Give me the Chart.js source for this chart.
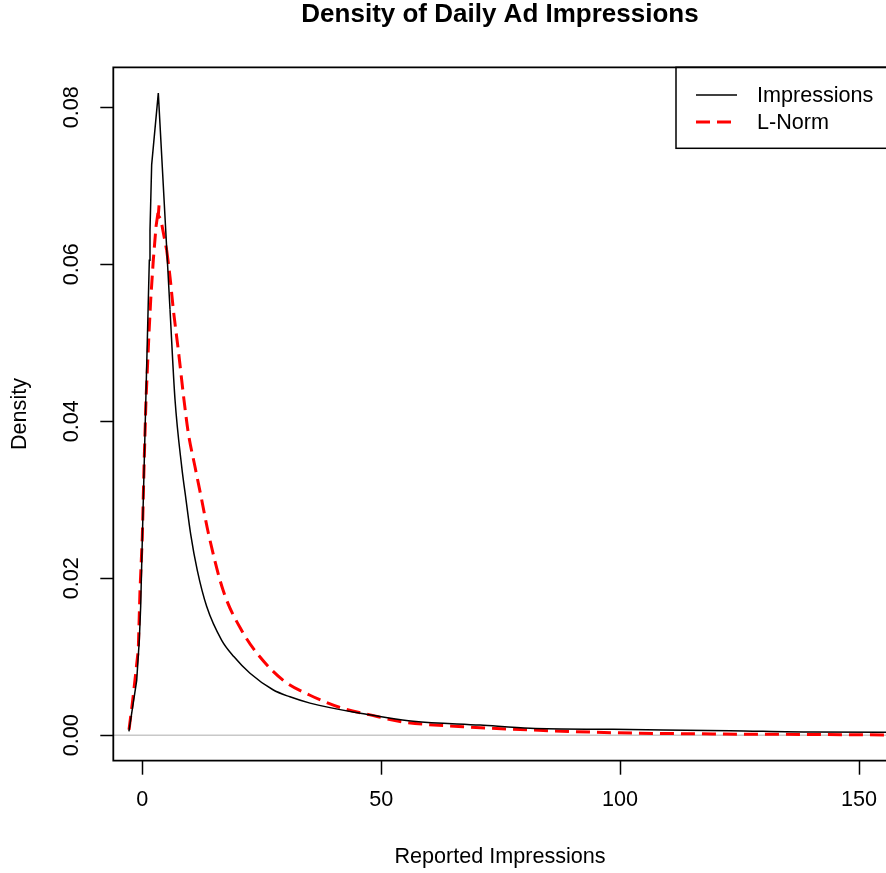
<!DOCTYPE html>
<html>
<head>
<meta charset="utf-8">
<script src="https://cdn.jsdelivr.net/npm/chart.js@4.4.1/dist/chart.umd.min.js"></script>
<style>
  html, body { margin: 0; padding: 0; background: #fff; }
</style>
</head>
<body>
<canvas id="myChart" width="886" height="873"></canvas>
<script>
// values
const impressionsX = [-2.8, -1.17, -0.63, -0.34, 0, 0.21, 0.56, 1.26, 1.47, 1.61, 1.96, 3.35, 5.8, 6.84, 8.25, 9.15, 10.13, 11.51, 13.48, 16.62, 19.2, 22.54, 27.35, 30.9, 35.1, 45.6, 49.7, 56.7, 70.7, 81.2, 98.5, 123, 140.4, 156];
const impressionsY = [0.0005, 0.007, 0.0121, 0.0164, 0.0249, 0.03, 0.0385, 0.0554, 0.0605, 0.0643, 0.0727, 0.0818, 0.0542, 0.0428, 0.0342, 0.03, 0.0256, 0.021, 0.0164, 0.0121, 0.01, 0.0079, 0.0058, 0.0049, 0.0041, 0.0028, 0.0024, 0.0018, 0.0013, 0.0009, 0.00076, 0.00059, 0.00042, 0.0004];

const lnormX = [-2.78, -2.0, -1.38, -0.84, -0.48, 0, 0.36, 0.77, 1.4, 1.76, 2.3, 2.87, 3.5, 3.35, 3.85, 5.1, 5.8, 6.5, 7.53, 8.73, 9.63, 11.03, 12.43, 13.81, 16.95, 21.14, 24.6, 29.5, 35.1, 42.1, 47.7, 54.6, 67.1, 81.2, 98.5, 119.4, 140.4, 156];
const lnormY = [0.0007, 0.0045, 0.0079, 0.0109, 0.0185, 0.0252, 0.0342, 0.0427, 0.0512, 0.0555, 0.0605, 0.0648, 0.0675, 0.0662, 0.0658, 0.0618, 0.0584, 0.0542, 0.0491, 0.0427, 0.0385, 0.0342, 0.03, 0.0258, 0.0184, 0.013, 0.01, 0.007, 0.0051, 0.0034, 0.0026, 0.0017, 0.0011, 0.00068, 0.00033, 0.00017, 0.0001, 0.00004];

const seriesNames = ["Impressions", "L-Norm"];
const xTicks = [0, 50, 100, 150];
const yTicks = [0, 0.02, 0.04, 0.06, 0.08];

const chartTitle = "Density of Daily Ad Impressions";
const xTitle = "Reported Impressions";
const yTitle = "Density";

const FONT = "'Liberation Sans', Arial, Helvetica, sans-serif";

// the sharp peak is drawn straight, the long tail smooth
const impressionsTailFrom = 12;
const lnormTailFrom = 15;

function toPoints(xs, ys) {
  return xs.map((x, i) => ({ x: x, y: ys[i] }));
}

const impStyle = { borderColor: "#000000", borderWidth: 1.5, borderDash: [] };
const lnStyle = { borderColor: "#ff0000", borderWidth: 3, borderDash: [14, 7] };

function seriesParts(name, xs, ys, from, style) {
  const pts = toPoints(xs, ys);
  const base = {
    label: name,
    pointRadius: 0,
    fill: false,
    borderColor: style.borderColor,
    borderWidth: style.borderWidth,
    borderDash: style.borderDash,
  };
  return [
    Object.assign({}, base, { data: pts.slice(0, from + 1), tension: 0 }),
    Object.assign({}, base, { data: pts.slice(from), cubicInterpolationMode: "monotone" }),
  ];
}

// R-like decorations: box, zero line, tick labels, titles, legend
const rStyle = {
  id: "rStyle",
  beforeDatasetsDraw(chart) {
    const ctx = chart.ctx;
    const area = chart.chartArea;
    const py = chart.scales.y.getPixelForValue(0);
    ctx.save();
    ctx.strokeStyle = "#c8c8c8";
    ctx.lineWidth = 1.5;
    ctx.beginPath();
    ctx.moveTo(area.left, py);
    ctx.lineTo(area.right, py);
    ctx.stroke();
    ctx.restore();
  },
  afterDraw(chart) {
    const ctx = chart.ctx;
    const area = chart.chartArea;
    const xs = chart.scales.x;
    const ys = chart.scales.y;
    ctx.save();

    // box
    ctx.strokeStyle = "#000";
    ctx.lineWidth = 1.8;
    ctx.beginPath();
    ctx.moveTo(chart.width + 5, area.top);
    ctx.lineTo(area.left, area.top);
    ctx.lineTo(area.left, area.bottom);
    ctx.lineTo(chart.width + 5, area.bottom);
    ctx.stroke();

    // tick labels
    ctx.fillStyle = "#000";
    ctx.font = "21.6px " + FONT;
    ctx.textAlign = "center";
    ctx.textBaseline = "middle";
    for (const v of xTicks) {
      ctx.fillText(String(v), xs.getPixelForValue(v), 800);
    }
    for (const v of yTicks) {
      ctx.save();
      ctx.translate(72, ys.getPixelForValue(v));
      ctx.rotate(-Math.PI / 2);
      ctx.fillText(v.toFixed(2), 0, 0);
      ctx.restore();
    }

    // axis titles
    ctx.fillText(xTitle, 500, 857);
    ctx.save();
    ctx.translate(20, (area.top + area.bottom) / 2);
    ctx.rotate(-Math.PI / 2);
    ctx.fillText(yTitle, 0, 0);
    ctx.restore();

    // main title
    ctx.font = "bold 26px " + FONT;
    ctx.fillText(chartTitle, 500, 15);

    // legend
    ctx.lineWidth = 1.5;
    ctx.strokeRect(676, area.top, 300, 81);
    const styles = [impStyle, lnStyle];
    const rows = [95, 122];
    ctx.font = "21.6px " + FONT;
    ctx.textAlign = "left";
    for (let i = 0; i < 2; i++) {
      ctx.save();
      ctx.strokeStyle = styles[i].borderColor;
      ctx.lineWidth = styles[i].borderWidth;
      ctx.setLineDash(styles[i].borderDash);
      ctx.beginPath();
      ctx.moveTo(696, rows[i]);
      ctx.lineTo(737, rows[i]);
      ctx.stroke();
      ctx.restore();
      ctx.fillText(seriesNames[i], 757, rows[i] + 1);
    }
    ctx.restore();
  }
};

const config = {
  type: "line",
  data: {
    datasets: [].concat(
      seriesParts(seriesNames[0], impressionsX, impressionsY, impressionsTailFrom, impStyle),
      seriesParts(seriesNames[1], lnormX, lnormY, lnormTailFrom, lnStyle)
    ),
  },
  options: {
    responsive: false,
    animation: false,
    devicePixelRatio: 1,
    layout: { padding: { top: 67.3, left: 0, right: 0, bottom: 0 } },
    plugins: {
      legend: { display: false },
      title: { display: false },
      tooltip: { enabled: false },
    },
    scales: {
      x: {
        type: "linear",
        min: -6.07,
        max: 155.65,
        afterBuildTicks: (s) => { s.ticks = xTicks.map((v) => ({ value: v })); },
        afterFit: (s) => { s.height = 873 - 760.7; },
        ticks: { display: false },
        border: { display: false },
        grid: {
          drawOnChartArea: false,
          drawTicks: true,
          tickLength: 14,
          tickColor: "#000",
          tickWidth: 1.5,
        },
      },
      y: {
        type: "linear",
        min: -0.003236,
        max: 0.08509,
        afterBuildTicks: (s) => { s.ticks = yTicks.map((v) => ({ value: v })); },
        afterFit: (s) => { s.width = 113.3; },
        ticks: { display: false },
        border: { display: false },
        grid: {
          drawOnChartArea: false,
          drawTicks: true,
          tickLength: 13,
          tickColor: "#000",
          tickWidth: 1.5,
        },
      },
    },
  },
  plugins: [rStyle],
};

const myChart = new Chart(document.getElementById("myChart"), config);
</script>
</body>
</html>
